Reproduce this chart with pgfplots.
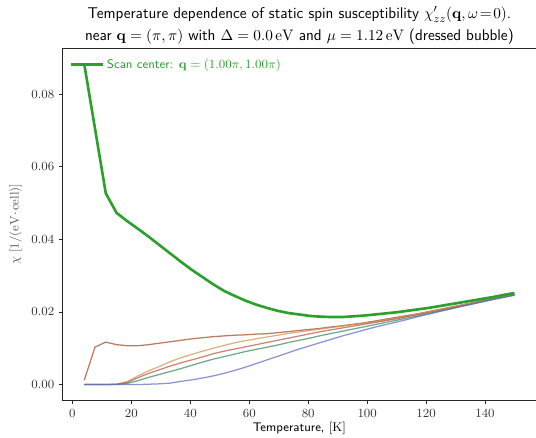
\documentclass[border=0pt]{standalone}
\usepackage{pgfplots}
\usepackage{pgfplotstable}
\pgfplotsset{compat=1.18}
\usetikzlibrary{calc}
\definecolor{cgreen}{HTML}{2CA02C}
\definecolor{cbrown}{HTML}{A85A3A}
\definecolor{ctan}{HTML}{D09850}
\definecolor{crose}{HTML}{B85A4E}
\definecolor{cteal}{HTML}{3A8F5E}
\definecolor{cblue}{HTML}{6470C4}
\pgfplotstableread{
T      g       br      tn      rs      tl      bl
4      0.0883  0.0012  0.0000  0.0000  0.0000  0.0000
7.65   0.0705  0.0103  0.0000  0.0000  0.0000  0.0000
11.3   0.0527  0.0117  0.0000  0.0000  0.0000  0.0000
14.95  0.0473  0.0110  0.0001  0.0001  0.0000  0.0000
18.6   0.0450  0.0107  0.0008  0.0006  0.0003  0.0000
22.25  0.0429  0.0107  0.0024  0.0019  0.0011  0.0000
25.9   0.0407  0.0110  0.0038  0.0031  0.0020  0.0001
29.55  0.0384  0.0114  0.0050  0.0041  0.0028  0.0002
33.2   0.0361  0.0118  0.0063  0.0051  0.0036  0.0004
36.85  0.0338  0.0122  0.0074  0.0060  0.0044  0.0009
40.5   0.0316  0.0126  0.0083  0.0068  0.0053  0.0013
44.15  0.0296  0.0129  0.0092  0.0076  0.0062  0.0018
47.8   0.0276  0.0132  0.0100  0.0085  0.0070  0.0024
51.45  0.0258  0.0134  0.0108  0.0092  0.0077  0.0031
55.1   0.0244  0.0136  0.0115  0.0098  0.0084  0.0039
58.75  0.0231  0.0137  0.0121  0.0104  0.0091  0.0048
62.4   0.0220  0.0139  0.0126  0.0110  0.0097  0.0058
66.05  0.0211  0.0140  0.0131  0.0116  0.0103  0.0068
69.7   0.0203  0.0143  0.0136  0.0122  0.0109  0.0078
73.35  0.0197  0.0146  0.0141  0.0128  0.0116  0.0088
77     0.0193  0.0149  0.0145  0.0134  0.0122  0.0098
80.65  0.0189  0.0152  0.0149  0.0140  0.0128  0.0107
84.3   0.0187  0.0155  0.0153  0.0146  0.0135  0.0116
87.95  0.0186  0.0159  0.0157  0.0151  0.0141  0.0125
91.6   0.0186  0.0162  0.0161  0.0156  0.0147  0.0134
95.25  0.0188  0.0166  0.0165  0.0161  0.0153  0.0142
98.9   0.0190  0.0170  0.0169  0.0166  0.0159  0.0150
102.55 0.0193  0.0175  0.0173  0.0171  0.0165  0.0158
106.2  0.0196  0.0180  0.0178  0.0176  0.0171  0.0165
109.85 0.0199  0.0185  0.0183  0.0181  0.0177  0.0172
113.5  0.0203  0.0190  0.0188  0.0187  0.0183  0.0179
117.15 0.0207  0.0195  0.0194  0.0192  0.0189  0.0187
120.8  0.0211  0.0201  0.0200  0.0198  0.0195  0.0194
124.45 0.0216  0.0207  0.0206  0.0204  0.0202  0.0201
128.1  0.0221  0.0213  0.0212  0.0210  0.0208  0.0208
131.75 0.0226  0.0219  0.0218  0.0216  0.0215  0.0215
135.4  0.0231  0.0225  0.0224  0.0222  0.0221  0.0222
139.05 0.0236  0.0231  0.0230  0.0229  0.0228  0.0228
142.7  0.0241  0.0237  0.0236  0.0235  0.0234  0.0235
146.35 0.0247  0.0243  0.0242  0.0241  0.0240  0.0241
150    0.0252  0.0249  0.0248  0.0247  0.0246  0.0247
}\chidata
\begin{document}
\begin{tikzpicture}
\begin{axis}[
  name=ax,
  scale only axis,
  width=341pt, height=254pt,
  xmin=-3.3, xmax=157.3,
  ymin=-0.0044, ymax=0.0927,
  xtick={0,20,...,140},
  ytick={0,0.02,0.04,0.06,0.08},
  scaled y ticks=false,
  yticklabel style={/pgf/number format/.cd, fixed, fixed zerofill, precision=2},
  tick align=outside,
  xtick pos=bottom, ytick pos=left,
  major tick length=2.6pt,
  tick style={black!85, line width=0.6pt},
  axis line style={black!85, line width=0.6pt},
  ticklabel style={font=\small, text=black!80},
  title style={align=center, font=\sffamily\fontsize{11.2}{16}\selectfont, yshift=-7pt},
  title={Temperature dependence of static spin susceptibility $\chi'_{zz}(\mathbf{q},\omega\!=\!0)$.\\near $\mathbf{q}=(\pi,\pi)$ with $\Delta=0.0\,\mathrm{eV}$ and $\mu=1.12\,\mathrm{eV}$ (dressed bubble)},
  xlabel={\sffamily Temperature, $[\mathrm{K}]$},
  ylabel={$\chi\ [1/(\mathrm{eV}\!\cdot\!\mathrm{cell})]$},
  xlabel style={font=\small, yshift=3pt},
  ylabel style={font=\small, text=black!65, yshift=0pt},
  legend style={draw=none, fill=none, at={(0.005,0.985)}, anchor=north west, font=\small, text=cgreen},
  legend cell align=left,
  legend image code/.code={\draw[#1, line width=2.2pt] (0cm,0cm) -- (0.8cm,0cm);},
]
\addplot[cbrown, line width=0.9pt, opacity=0.8, forget plot] table[x=T, y=br] {\chidata};
\addplot[ctan, line width=0.9pt, opacity=0.75, forget plot] table[x=T, y=tn] {\chidata};
\addplot[crose, line width=0.9pt, opacity=0.75, forget plot] table[x=T, y=rs] {\chidata};
\addplot[cteal, line width=0.9pt, opacity=0.75, forget plot] table[x=T, y=tl] {\chidata};
\addplot[cblue, line width=0.9pt, opacity=0.75, forget plot] table[x=T, y=bl] {\chidata};
\addplot[cgreen, line width=1.9pt] table[x=T, y=g] {\chidata};
\addlegendentry{\sffamily Scan center: $\mathbf{q}=(1.00\pi,1.00\pi)$}
\end{axis}
\pgfresetboundingbox
\path[use as bounding box] ($(ax.south west)+(-45.2pt,-26.9pt)$) rectangle ($(ax.north east)+(0pt,34.6pt)$);
\end{tikzpicture}
\end{document}
